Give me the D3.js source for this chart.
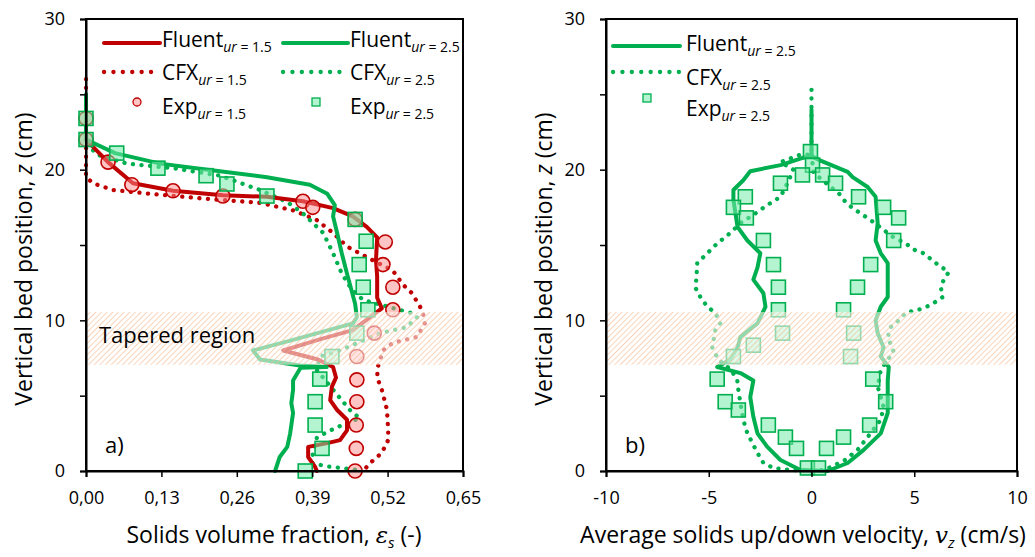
<!DOCTYPE html>
<html>
<head>
<meta charset="utf-8">
<script src="https://cdn.jsdelivr.net/npm/d3@7"></script>
<style>
  body { margin: 0; background: #fff; }
  svg { font-family: "Open Sans", Lato, sans-serif; }
</style>
</head>
<body>
<svg id="chart" width="1035" height="557"></svg>
<script>
// ---- datos panel a) : [fraccion, z]
const fluent15 = [[0,24],[0,22],[0.038,20.5],[0.081,19.1],[0.15,18.6],[0.236,18.3],[0.312,18.2],[0.374,17.9],[0.426,17.45],[0.46,16.9],[0.484,16.2],[0.502,15.5],[0.5,14.0],[0.502,12.9],[0.502,11.5],[0.51,10.8],[0.46,9.35],[0.4,8.7],[0.34,8.0],[0.4,7.4],[0.426,6.9],[0.431,6.2],[0.424,5.6],[0.421,4.7],[0.433,4.05],[0.45,3.4],[0.45,2.7],[0.438,2.05],[0.416,1.85],[0.383,1.6],[0.383,0.93],[0.395,0.27],[0.398,0]];
const cfx15 = [[0,26],[0,19.5],[0.012,19.1],[0.047,18.65],[0.11,18.4],[0.197,18.1],[0.3,17.8],[0.357,17.3],[0.398,16.65],[0.426,15.8],[0.45,14.9],[0.484,14.2],[0.529,13.3],[0.547,12.35],[0.562,11.8],[0.576,10.9],[0.581,10.5],[0.584,9.8],[0.571,8.9],[0.55,8.7],[0.529,8.5],[0.512,8.0],[0.503,6.9],[0.502,6.2],[0.51,5.4],[0.519,4.05],[0.521,2.7],[0.521,2.05],[0.51,1.2],[0.49,0.53],[0.478,0]];
const exp15 = [[0,23.4],[0,22.0],[0.038,20.5],[0.079,19.0],[0.15,18.6],[0.236,18.25],[0.374,17.9],[0.391,17.5],[0.464,16.7],[0.516,15.2],[0.512,13.7],[0.529,12.2],[0.529,10.7],[0.497,9.15],[0.467,7.6],[0.467,6.05],[0.467,4.6],[0.466,3.05],[0.466,1.5],[0.464,0]];
const fluent25a = [[0,25],[0,22],[0.05,21.1],[0.128,20.4],[0.21,20.0],[0.312,19.5],[0.386,19.0],[0.416,18.4],[0.429,17.65],[0.426,16.9],[0.433,15.8],[0.441,14.45],[0.45,13.1],[0.464,11.1],[0.467,10.2],[0.46,9.8],[0.357,8.7],[0.288,8.0],[0.3,7.4],[0.369,7.0],[0.415,6.9],[0.37,6.85],[0.357,6.0],[0.357,5.4],[0.354,4.5],[0.357,3.85],[0.352,2.5],[0.347,1.6],[0.334,0.93],[0.326,0]];
const cfx25a = [[0,22.3],[0.007,21.5],[0.019,21.0],[0.071,20.4],[0.15,20.1],[0.231,19.6],[0.3,18.65],[0.347,17.85],[0.374,17.1],[0.409,15.8],[0.426,14.45],[0.441,13.1],[0.459,12.0],[0.478,11.35],[0.512,11.0],[0.559,10.5],[0.571,10.2],[0.553,9.55],[0.507,9.15],[0.438,8.0],[0.403,7.6],[0.398,6.7],[0.426,5.4],[0.455,4.05],[0.472,3.5],[0.45,3.2],[0.416,2.6],[0.398,2.2],[0.391,1.2],[0.39,0.53],[0.416,0.3],[0.45,0.15],[0.472,0.05]];
const exp25a = [[0,23.4],[0,22.0],[0.053,21.1],[0.124,20.1],[0.207,19.6],[0.243,19.05],[0.312,18.25],[0.464,16.7],[0.483,15.25],[0.471,13.7],[0.478,12.2],[0.486,10.7],[0.467,9.15],[0.424,7.6],[0.403,6.1],[0.395,4.6],[0.395,3.05],[0.407,1.5],[0.378,0]];

// ---- datos panel b) : [velocidad, z]
const fluent25b = [[0,24.0],[0,20.9],[-0.39,20.8],[-1.51,20.3],[-2.98,19.9],[-3.32,19.3],[-3.8,18.65],[-3.8,18.0],[-3.6,16.2],[-3.12,15.3],[-2.49,14.45],[-2.63,13.5],[-2.83,12.7],[-2.34,11.8],[-2.24,10.9],[-2.63,9.8],[-3.46,8.9],[-3.6,8.2],[-3.95,7.4],[-4.59,6.9],[-3.46,6.5],[-2.83,6.0],[-2.98,4.9],[-2.83,3.6],[-2.63,2.5],[-2.15,1.6],[-1.51,0.73],[-0.54,0.07],[0.78,0],[1.76,0.53],[2.54,1.4],[3.37,2.5],[3.71,3.85],[3.71,6.0],[3.76,6.9],[3.37,7.6],[3.51,8.2],[3.22,9.15],[3.12,10.0],[3.37,10.9],[3.71,11.55],[3.71,12.7],[3.71,13.8],[3.37,14.45],[3.12,15.3],[3.22,16.45],[3.12,18.2],[2.73,18.85],[2.0,19.5],[1.76,19.85],[0.44,20.6],[0,20.9]];
const cfx25b = [[0,25.3],[0,21.0],[-0.54,21.0],[-1.51,20.5],[-0.88,20.0],[-1.17,19.1],[-1.51,18.2],[-2.15,17.65],[-2.83,17.0],[-3.46,16.45],[-3.95,15.8],[-4.59,15.1],[-5.07,14.45],[-5.56,13.8],[-5.6,12.8],[-5.66,12.2],[-5.41,11.55],[-5.07,10.9],[-4.68,10.5],[-4.44,9.8],[-4.68,9.35],[-4.83,8.2],[-4.54,7.4],[-3.9,6.7],[-3.61,6.0],[-3.56,5.4],[-3.46,4.5],[-3.32,3.4],[-3.12,2.5],[-2.63,1.2],[-2.34,0.53],[-1.85,0.2],[-0.9,0.05],[0.6,0.05],[1.6,0.7],[2.24,1.4],[2.73,2.25],[3.37,3.4],[3.51,4.25],[3.22,5.6],[3.37,6.7],[3.71,7.4],[4.0,7.9],[3.71,8.9],[3.85,9.55],[4.24,10.0],[4.59,10.5],[5.46,10.8],[5.95,11.15],[6.39,11.55],[6.29,12.2],[6.44,12.7],[6.68,13.2],[6.05,13.8],[5.46,14.45],[4.98,14.7],[4.59,15.1],[4.0,15.5],[3.51,16.0],[2.88,16.65],[2.0,17.45],[1.66,17.85],[1.32,18.45],[0.93,18.85],[0.54,19.3],[0.1,19.8],[0,21.0]];
const exp25b = [[-0.05,21.2],[0.05,20.3],[-0.44,19.65],[0.54,19.65],[-1.51,19.1],[1.17,19.1],[-3.22,18.2],[2.29,18.2],[-3.8,17.5],[3.51,17.5],[-3.17,16.8],[4.24,16.8],[-2.34,15.3],[4.0,15.3],[-1.85,13.7],[2.88,13.7],[-1.61,12.2],[2.24,12.2],[-1.61,10.7],[1.56,10.7],[-1.41,9.15],[2.05,9.15],[-2.83,8.35],[1.9,7.6],[-3.8,7.6],[-4.59,6.1],[2.98,6.1],[-4.2,4.6],[3.61,4.6],[-3.56,4.05],[-2.1,3.05],[2.83,3.05],[-1.27,2.25],[1.56,2.25],[-0.73,1.5],[0.73,1.5],[-0.2,0.2],[0.34,0.2]];

const xTicksA = [0, 0.13, 0.26, 0.39, 0.52, 0.65];
const xTicksB = [-10, -5, 0, 5, 10];
const yTicks = [0, 5, 10, 15, 20, 25, 30];
const taper = [7.05, 10.55];

const RED = "#C00000", GREEN = "#00B050";
const svg = d3.select("#chart");

// patron rayado para la zona conica
const defs = svg.append("defs");
const pat = defs.append("pattern")
  .attr("id", "hatch").attr("patternUnits", "userSpaceOnUse")
  .attr("width", 4).attr("height", 4)
  .attr("patternTransform", "rotate(45)");
pat.append("rect").attr("width", 4).attr("height", 4).attr("fill", "rgba(255,255,255,0.55)");
pat.append("line").attr("x1", 0).attr("y1", 0).attr("x2", 0).attr("y2", 4)
  .attr("stroke", "#F4B183").attr("stroke-width", 1.6).attr("stroke-opacity", 0.7);

function panel(cfg) {
  const x = d3.scaleLinear().domain(cfg.xDomain).range([cfg.left, cfg.right]);
  const y = d3.scaleLinear().domain([0, 30]).range([471, 19]);
  const g = svg.append("g");

  const line = d3.line().x(d => x(d[0])).y(d => y(d[1]));

  cfg.series.forEach(s => {
    if (s.type === "solid") {
      g.append("path").datum(s.data).attr("d", line)
        .attr("fill", "none").attr("stroke", s.color).attr("stroke-width", 4)
        .attr("stroke-linejoin", "round").attr("stroke-linecap", "round");
    } else if (s.type === "dot") {
      g.append("path").datum(s.data).attr("d", line)
        .attr("fill", "none").attr("stroke", s.color).attr("stroke-width", 4.3)
        .attr("stroke-dasharray", "0.1 8.5").attr("stroke-linecap", "round");
    } else if (s.type === "circle") {
      g.selectAll(null).data(s.data).enter().append("circle")
        .attr("cx", d => x(d[0])).attr("cy", d => y(d[1])).attr("r", 7)
        .attr("fill", "rgba(255,140,140,0.5)").attr("stroke", RED).attr("stroke-width", 1.6);
    } else if (s.type === "square") {
      g.selectAll(null).data(s.data).enter().append("rect")
        .attr("x", d => x(d[0]) - 7).attr("y", d => y(d[1]) - 7)
        .attr("width", 14).attr("height", 14)
        .attr("fill", "rgba(120,235,170,0.55)").attr("stroke", GREEN).attr("stroke-width", 1.6);
    }
  });

  // zona conica
  g.append("rect")
    .attr("x", cfg.left).attr("y", y(taper[1]))
    .attr("width", cfg.right - cfg.left).attr("height", y(taper[0]) - y(taper[1]))
    .attr("fill", "url(#hatch)");

  // marco
  g.append("rect").attr("x", cfg.left).attr("y", 19)
    .attr("width", cfg.right - cfg.left).attr("height", 452)
    .attr("fill", "none").attr("stroke", "#000").attr("stroke-width", 2);

  const ax = g.append("g").attr("transform", "translate(0,471)")
    .call(d3.axisBottom(x).tickValues(cfg.xTicks).tickSize(6).tickPadding(14).tickFormat(cfg.xFormat));
  const ay = g.append("g").attr("transform", `translate(${cfg.left},0)`)
    .call(d3.axisLeft(y).tickValues(yTicks).tickSize(6).tickPadding(15).tickFormat(d => d % 10 === 0 ? d : ""));
  [ax, ay].forEach(a => {
    a.select(".domain").attr("stroke-width", 2);
    a.selectAll(".tick line").attr("stroke-width", 1.5);
    a.selectAll("text").attr("font-size", 18).attr("fill", "#000").attr("font-family", "'Open Sans', sans-serif");
  });

  // titulo eje y
  const yt = g.append("text")
    .attr("transform", `translate(${cfg.left - 54},259) rotate(-90)`)
    .attr("text-anchor", "middle").attr("font-size", 23);
  yt.append("tspan").text("Vertical bed position, ");
  yt.append("tspan").attr("font-style", "italic").text("z");
  yt.append("tspan").text(" (cm)");

  // titulo eje x
  const xt = g.append("text")
    .attr("x", cfg.titleX).attr("y", 543)
    .attr("text-anchor", "middle").attr("font-size", 23);
  xt.append("tspan").text(cfg.xTitle);
  xt.append("tspan").attr("font-style", "italic").attr("font-family", "DejaVu Serif, serif").text(cfg.xSym);
  xt.append("tspan").attr("font-style", "italic").attr("font-size", 15).attr("dy", 5).text(cfg.xSub);
  xt.append("tspan").attr("dy", -5).text(cfg.xTail);

  g.append("text").attr("x", cfg.left + 19).attr("y", 453).attr("font-size", 22).text(cfg.tag);
  return { g, x, y };
}

function legendText(g, x, yb, name, val) {
  const t = g.append("text").attr("x", x).attr("y", yb).attr("font-size", 21);
  t.append("tspan").text(name);
  t.append("tspan").attr("font-size", 14).attr("dy", 5).attr("font-style", "italic").text("ur");
  t.append("tspan").attr("font-size", 14).text(" = " + val);
}

const fmtComma = d => d3.format(".2f")(d).replace(".", ",");
const fmtHyphen = d => String(d);

// panel a)
const pa = panel({
  xDomain: [0, 0.65], left: 86, right: 463, xTicks: xTicksA, xFormat: fmtComma, titleX: 274,
  xTitle: "Solids volume fraction, ", xSym: "ε", xSub: "s", xTail: " (-)", tag: "a)",
  series: [
    { type: "dot", data: cfx15, color: RED },
    { type: "dot", data: cfx25a, color: GREEN },
    { type: "solid", data: fluent15, color: RED },
    { type: "solid", data: fluent25a, color: GREEN },
    { type: "circle", data: exp15 },
    { type: "square", data: exp25a }
  ]
});
pa.g.append("text").attr("x", 99).attr("y", 343).attr("font-size", 22).text("Tapered region");

// leyenda a)
pa.g.append("line").attr("x1", 104).attr("x2", 160).attr("y1", 43).attr("y2", 43)
  .attr("stroke", RED).attr("stroke-width", 4).attr("stroke-linecap", "round");
pa.g.append("line").attr("x1", 283).attr("x2", 348).attr("y1", 43).attr("y2", 43)
  .attr("stroke", GREEN).attr("stroke-width", 4).attr("stroke-linecap", "round");
pa.g.append("line").attr("x1", 104).attr("x2", 160).attr("y1", 72).attr("y2", 72)
  .attr("stroke", RED).attr("stroke-width", 4.3).attr("stroke-dasharray", "0.1 9.3").attr("stroke-linecap", "round");
pa.g.append("line").attr("x1", 283).attr("x2", 348).attr("y1", 72).attr("y2", 72)
  .attr("stroke", GREEN).attr("stroke-width", 4.3).attr("stroke-dasharray", "0.1 9.3").attr("stroke-linecap", "round");
pa.g.append("circle").attr("cx", 137).attr("cy", 102).attr("r", 4)
  .attr("fill", "rgba(255,140,140,0.5)").attr("stroke", RED).attr("stroke-width", 1.3);
pa.g.append("rect").attr("x", 312).attr("y", 98).attr("width", 8).attr("height", 8)
  .attr("fill", "rgba(120,235,170,0.55)").attr("stroke", GREEN).attr("stroke-width", 1.3);
legendText(pa.g, 162, 47, "Fluent", "1.5");
legendText(pa.g, 350, 47, "Fluent", "2.5");
legendText(pa.g, 162, 80, "CFX", "1.5");
legendText(pa.g, 350, 80, "CFX", "2.5");
legendText(pa.g, 162, 114, "Exp", "1.5");
legendText(pa.g, 350, 114, "Exp", "2.5");

// panel b)
const pb = panel({
  xDomain: [-10, 10], left: 606, right: 1017, xTicks: xTicksB, xFormat: fmtHyphen, titleX: 803,
  xTitle: "Average solids up/down velocity, ", xSym: "v", xSub: "z", xTail: " (cm/s)", tag: "b)",
  series: [
    { type: "dot", data: cfx25b, color: GREEN },
    { type: "solid", data: fluent25b, color: GREEN },
    { type: "square", data: exp25b }
  ]
});
pb.g.append("line").attr("x1", 613).attr("x2", 680).attr("y1", 46).attr("y2", 46)
  .attr("stroke", GREEN).attr("stroke-width", 4).attr("stroke-linecap", "round");
pb.g.append("line").attr("x1", 613).attr("x2", 680).attr("y1", 72).attr("y2", 72)
  .attr("stroke", GREEN).attr("stroke-width", 4.3).attr("stroke-dasharray", "0.1 9.3").attr("stroke-linecap", "round");
pb.g.append("rect").attr("x", 643).attr("y", 94).attr("width", 8).attr("height", 8)
  .attr("fill", "rgba(120,235,170,0.55)").attr("stroke", GREEN).attr("stroke-width", 1.3);
legendText(pb.g, 686, 51, "Fluent", "2.5");
legendText(pb.g, 686, 85, "CFX", "2.5");
legendText(pb.g, 686, 116, "Exp", "2.5");
</script>
</body>
</html>
